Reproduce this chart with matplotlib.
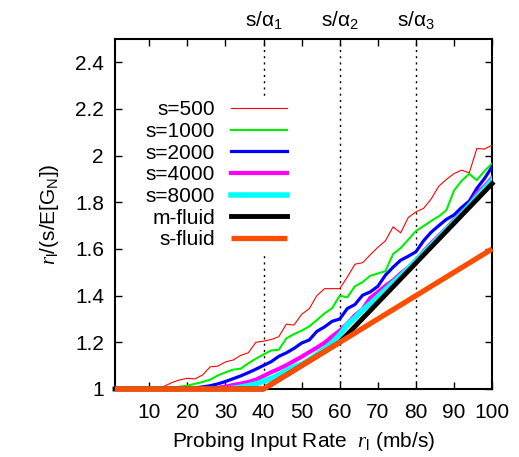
import numpy as np
import matplotlib
matplotlib.use('Agg')
import matplotlib.pyplot as plt

plt.rcParams['font.family'] = ['Liberation Sans', 'DejaVu Sans']
plt.rcParams['mathtext.fontset'] = 'custom'
plt.rcParams['mathtext.rm'] = 'Liberation Sans'
plt.rcParams['mathtext.it'] = 'Liberation Serif:italic'
plt.rcParams['mathtext.sf'] = 'Liberation Sans'

# probing input rate (mb/s), sampled every 2
rate = list(range(0, 101, 2))

s500 = [1.0, 1.0, 1.0, 1.0, 1.0, 1.0, 1.005, 1.012, 1.028, 1.039, 1.046,
        1.043, 1.06, 1.095, 1.098, 1.116, 1.124, 1.144, 1.155, 1.200, 1.205,
        1.212, 1.224, 1.278, 1.274, 1.32, 1.344, 1.40, 1.43, 1.43, 1.43,
        1.48, 1.535, 1.541, 1.575, 1.607, 1.635, 1.695, 1.669, 1.735, 1.759,
        1.774, 1.814, 1.869, 1.898, 1.923, 1.938, 1.926, 2.031, 2.028, 2.045]
s1000 = [1.0, 1.0, 1.0, 1.0, 1.0, 1.0, 1.001, 1.003, 1.006, 1.010, 1.014,
         1.022, 1.030, 1.040, 1.058, 1.071, 1.083, 1.087, 1.110, 1.130, 1.148,
         1.165, 1.168, 1.217, 1.235, 1.25, 1.268, 1.295, 1.324, 1.346, 1.40,
         1.393, 1.44, 1.458, 1.485, 1.495, 1.505, 1.578, 1.604, 1.64, 1.677,
         1.698, 1.72, 1.74, 1.766, 1.85, 1.892, 1.922, 1.895, 1.934, 1.966]
s2000 = [1.0, 1.0, 1.0, 1.0, 1.0, 1.0, 1.0, 1.0, 1.0, 1.0, 1.0,
         1.005, 1.009, 1.014, 1.022, 1.032, 1.044, 1.056, 1.070, 1.085, 1.101,
         1.117, 1.14, 1.155, 1.174, 1.197, 1.21, 1.247, 1.266, 1.29, 1.30,
         1.345, 1.362, 1.402, 1.416, 1.44, 1.488, 1.522, 1.552, 1.569, 1.588,
         1.635, 1.672, 1.70, 1.727, 1.746, 1.778, 1.805, 1.86, 1.902, 1.952]
s4000 = [1.0, 1.0, 1.0, 1.0, 1.0, 1.0, 1.0, 1.0, 1.0, 1.0, 1.0,
         1.0, 1.0, 1.0, 1.005, 1.010, 1.017, 1.023, 1.030, 1.040, 1.056,
         1.072, 1.086, 1.102, 1.12, 1.138, 1.158, 1.177, 1.198, 1.225, 1.25,
         1.28, 1.316, 1.342, 1.39, 1.415, 1.442, 1.465, 1.495, 1.52, 1.55,
         1.59, 1.624, 1.656, 1.688, 1.724, 1.756, 1.79, 1.838, 1.868, 1.905]
s8000 = [1.0, 1.0, 1.0, 1.0, 1.0, 1.0, 1.0, 1.0, 1.0, 1.0, 1.0,
         1.0, 1.0, 1.0, 1.0, 1.0, 1.003, 1.008, 1.014, 1.022, 1.033,
         1.045, 1.06, 1.078, 1.095, 1.105, 1.125, 1.148, 1.172, 1.198, 1.232,
         1.275, 1.305, 1.338, 1.365, 1.395, 1.425, 1.455, 1.485, 1.515, 1.55,
         1.582, 1.615, 1.648, 1.682, 1.716, 1.75, 1.785, 1.822, 1.858, 1.895]

# fluid approximations (piecewise linear)
m_rate = [1, 40, 60, 100]
m_fluid = [1.0, 1.0, 1.2, 1.88]
s_rate = [1, 40, 100]
s_fluid = [1.0, 1.0, 1.6]

# s/alpha_i markers
alpha_rate = [40, 60, 80]
alpha_labels = [r's/α$_\mathrm{1}$', r's/α$_\mathrm{2}$', r's/α$_\mathrm{3}$']

xticks = [10, 20, 30, 40, 50, 60, 70, 80, 90, 100]
yticks = [1.0, 1.2, 1.4, 1.6, 1.8, 2.0, 2.2, 2.4]
ytick_labels = ['1', '1.2', '1.4', '1.6', '1.8', '2', '2.2', '2.4']

# initialize figure
fig = plt.figure(figsize=(5.19, 4.57), dpi=100)
ax = fig.add_axes([0.2216, 0.1488, 0.7266, 0.7659])

# vertical guides
for xa in alpha_rate:
    ax.axvline(xa, color='k', lw=1.0, ls=(0, (1.5, 3)), zorder=1)

# measured curves
ax.plot(rate, s500, color='#ff0000', lw=0.8, label='s=500', zorder=3)
ax.plot(rate, s1000, color='#00ee00', lw=1.5, label='s=1000', zorder=3)
ax.plot(rate, s2000, color='#0000ff', lw=2.3, label='s=2000', zorder=3)
ax.plot(rate, s4000, color='#ff00ff', lw=3.0, label='s=4000', zorder=3)
ax.plot(rate, s8000, color='#00ffff', lw=4.0, label='s=8000', zorder=3)
ax.plot(m_rate, m_fluid, color='k', lw=3.5, label='m-fluid', zorder=4,
        clip_on=False)
ax.plot(s_rate, s_fluid, color='#ff4d00', lw=3.8, label='s-fluid',
        zorder=5, clip_on=False, solid_capstyle='butt')

# set axes properties
ax.set_xlim(1, 100)
ax.set_ylim(1, 2.5)
ax.set_xticks(xticks)
ax.set_yticks(yticks)
ax.set_yticklabels(ytick_labels)
ax.tick_params(direction='in', top=True, right=True, length=5, width=1,
               labelsize=15)
ax.tick_params(axis='x', pad=10)
ax.tick_params(axis='y', pad=8)
for sp in ax.spines.values():
    sp.set_linewidth(1.5)

ax.set_xlabel(r'Probing Input Rate  $r_\mathrm{l}$ (mb/s)', fontsize=15,
              labelpad=6)
ax.set_ylabel(r'$r_\mathrm{l}$/(s/E[G$_\mathrm{N}$])', fontsize=15,
              labelpad=10)

# top labels
sec = ax.secondary_xaxis('top')
sec.set_xticks(alpha_rate)
sec.set_xticklabels(alpha_labels)
sec.tick_params(length=0, labelsize=15, pad=6)
sec.spines['top'].set_visible(False)

# legend
leg = ax.legend(loc='upper right', bbox_to_anchor=(0.464, 0.834),
                markerfirst=False, fontsize=15, handlelength=2.7,
                handletextpad=0.75, labelspacing=0.13, borderpad=0.15,
                borderaxespad=0, frameon=True, fancybox=False)
leg.get_frame().set_facecolor('white')
leg.get_frame().set_edgecolor('none')
leg.get_frame().set_alpha(1.0)
leg.set_zorder(10)

# save
fig.savefig('out.png', dpi=100)
